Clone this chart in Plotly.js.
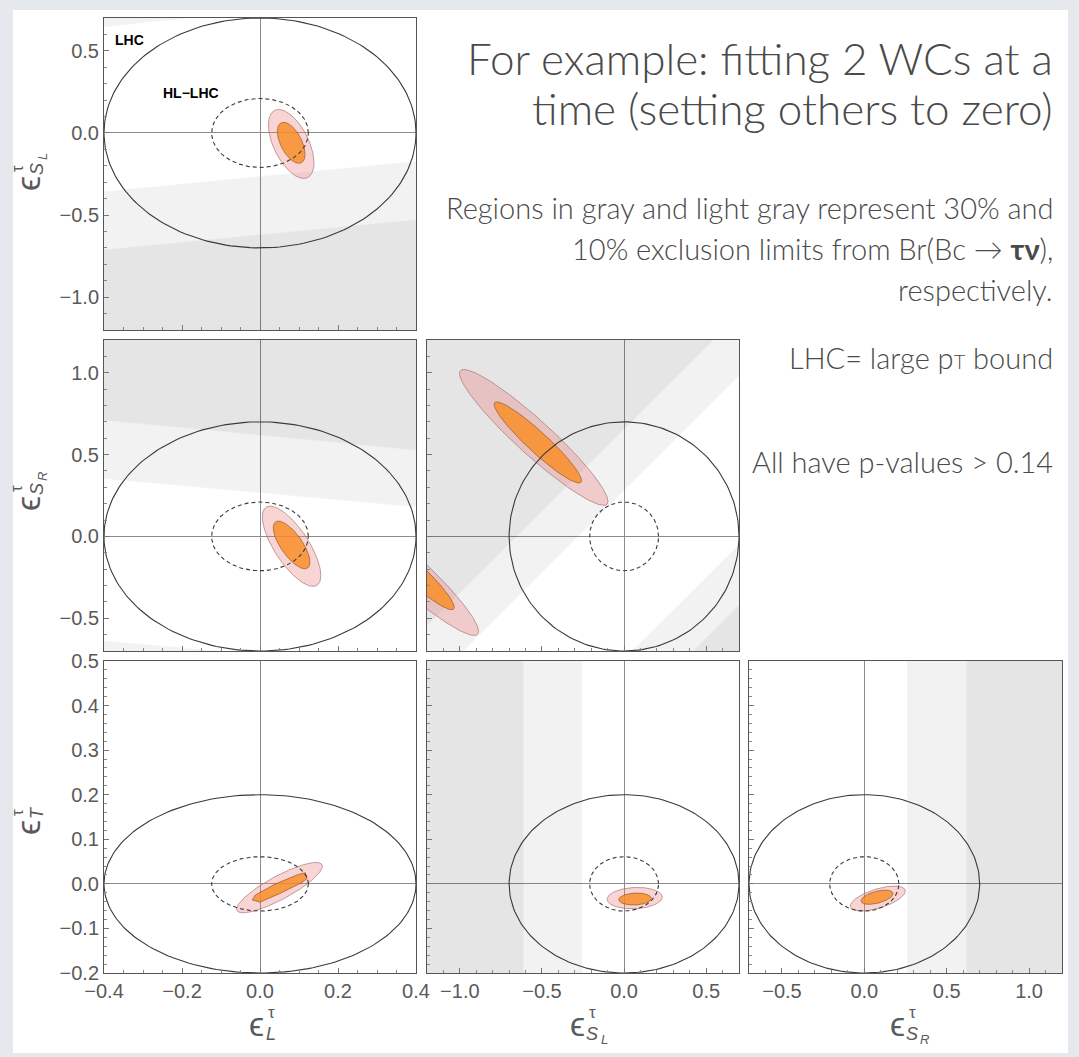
<!DOCTYPE html>
<html><head><meta charset="utf-8">
<script src="https://cdn.plot.ly/plotly-3.0.1.min.js"></script>
<style>html,body{margin:0;padding:0;background:#e6e9ed;} #chart{width:1079px;height:1057px;}</style>
</head><body><div id="chart"></div>
<script>
// ---------------- DATA ----------------
// Wilson coefficients and their axis ranges
const wcKeys = ['L', 'SL', 'SR', 'T'];
const xRanges = { L: [-0.4, 0.4], SL: [-1.2, 0.7], SR: [-0.7, 1.2] };
const yRanges = { SL: [-1.2, 0.7], SR: [-0.7, 1.2], T: [-0.2, 0.5] };
// LHC (large pT) and HL-LHC bounds (semi-axes of the bound ellipses)
const lhcBound = { L: 0.4, SL: 0.7, SR: 0.7, T: 0.2 };
const hlBound  = { L: 0.124, SL: 0.21, SR: 0.21, T: 0.061 };

// Fit regions: [centre x, centre y, half-width x, half-width y, correlation]
const fit95_LSL  = [0.080, -0.067, 0.0585, 0.210, -0.55];
const fit68_LSL  = [0.080, -0.060, 0.0355, 0.125, -0.55];
const fit95_LSR  = [0.081, -0.060, 0.075, 0.245, -0.73];
const fit68_LSR  = [0.081, -0.052, 0.047, 0.146, -0.72];
const fit95_SLSR_a = [-0.550, 0.605, 0.452, 0.415, -0.94];
const fit68_SLSR_a = [-0.525, 0.574, 0.266, 0.248, -0.94];
const fit95_SLSR_b = [-1.338, -0.190, 0.452, 0.415, -0.94];
const fit68_SLSR_b = [-1.300, -0.200, 0.266, 0.248, -0.94];
const fit95_LT   = [0.050, -0.0085, 0.110, 0.0565, 0.85];
const fit68_LT_x = [-0.020, -0.012, 0.040, 0.098, 0.116, 0.121, 0.105, 0.050, 0.000, -0.020];
const fit68_LT_y = [-0.036, -0.025, 0.000, 0.021, 0.025, 0.012, 0.002, -0.022, -0.041, -0.036];
const fit95_SLT  = [0.065, -0.032, 0.168, 0.024, 0.10];
const fit68_SLT  = [0.067, -0.034, 0.099, 0.0135, 0.10];
const fit95_SRT  = [0.082, -0.033, 0.167, 0.028, 0.60];
const fit68_SRT  = [0.077, -0.030, 0.097, 0.016, 0.50];

// Br(Bc -> tau nu) exclusion regions (polygon vertices). light = 10%, dark = 30%
const band_LSL_light1 = { x: [-0.4, 0.4, 0.4, -0.4], y: [-0.356, -0.173, -1.2, -1.2] };
const band_LSL_light2 = { x: [-0.4, -0.18, -0.4], y: [0.645, 0.7, 0.7] };
const band_LSL_dark1  = { x: [-0.4, 0.4, 0.4, -0.4], y: [-0.711, -0.528, -1.2, -1.2] };
const band_LSR_light1 = { x: [-0.4, 0.4, 0.4, -0.4], y: [0.353, 0.18, 1.2, 1.2] };
const band_LSR_light2 = { x: [-0.4, -0.108, -0.4], y: [-0.637, -0.7, -0.7] };
const band_LSR_dark1  = { x: [-0.4, 0.4, 0.4, -0.4], y: [0.71, 0.527, 1.2, 1.2] };
const band_SLSR_light1 = { x: [-0.98, 0.7, 0.7, -1.2, -1.2], y: [-0.7, 0.98, 1.2, 1.2, -0.7] };
const band_SLSR_light2 = { x: [0.05, 0.7, 0.7], y: [-0.7, -0.05, -0.7] };
const band_SLSR_dark1  = { x: [-1.2, 0.545, -1.2], y: [-0.545, 1.2, 1.2] };
const band_SLSR_dark2  = { x: [0.42, 0.7, 0.7], y: [-0.7, -0.42, -0.7] };
const band_SLT_light1 = { x: [-1.2, -0.255, -0.255, -1.2], y: [-0.2, -0.2, 0.5, 0.5] };
const band_SLT_dark1  = { x: [-1.2, -0.613, -0.613, -1.2], y: [-0.2, -0.2, 0.5, 0.5] };
const band_SRT_light1 = { x: [0.26, 1.2, 1.2, 0.26], y: [-0.2, -0.2, 0.5, 0.5] };
const band_SRT_dark1  = { x: [0.62, 1.2, 1.2, 0.62], y: [-0.2, -0.2, 0.5, 0.5] };

// Tick settings
const xTick = { L: [0.2, 0.05], SL: [0.5, 0.1], SR: [0.5, 0.1] };
const yTick = { SL: [0.5, 0.1], SR: [0.5, 0.1], T: [0.1, 0.02] };

// Slide text
const titleLines = ['For example: fitting 2 WCs at a', 'time (setting others to zero)'];
const noteLines = ['Regions in gray and light gray represent 30% and', '10% exclusion limits from Br(Bc → <b>τν</b>),', 'respectively.'];
const lhcNote = 'LHC= large p<span style="font-size:20px">T</span> bound';
const pNote = 'All have p-values > 0.14';

// ---------------- LAYOUT GEOMETRY ----------------
const W = 1079, H = 1057;
const colPx = [[104, 416], [427, 739], [749, 1062]];
const rowPx = [[18, 330], [340, 651], [661, 973]];
const fx = p => p / W, fy = p => 1 - p / H;

const panels = [
  { col: 0, row: 0, xv: 'L',  yv: 'SL', light: [band_LSL_light1, band_LSL_light2], dark: [band_LSL_dark1],
    f95: [fit95_LSL], f68: [fit68_LSL] },
  { col: 0, row: 1, xv: 'L',  yv: 'SR', light: [band_LSR_light1, band_LSR_light2], dark: [band_LSR_dark1],
    f95: [fit95_LSR], f68: [fit68_LSR] },
  { col: 1, row: 1, xv: 'SL', yv: 'SR', light: [band_SLSR_light1, band_SLSR_light2], dark: [band_SLSR_dark1, band_SLSR_dark2],
    f95: [fit95_SLSR_a, fit95_SLSR_b], f68: [fit68_SLSR_a, fit68_SLSR_b] },
  { col: 0, row: 2, xv: 'L',  yv: 'T', light: [], dark: [],
    f95: [fit95_LT], f68: [], poly68: [{ x: fit68_LT_x, y: fit68_LT_y }] },
  { col: 1, row: 2, xv: 'SL', yv: 'T', light: [band_SLT_light1], dark: [band_SLT_dark1],
    f95: [fit95_SLT], f68: [fit68_SLT] },
  { col: 2, row: 2, xv: 'SR', yv: 'T', light: [band_SRT_light1], dark: [band_SRT_dark1],
    f95: [fit95_SRT], f68: [fit68_SRT] }
];

function ellipse(p) {
  const [cx, cy, hx, hy, r] = p, s = Math.sqrt(1 - r * r);
  const xs = [], ys = [];
  for (let i = 0; i <= 200; i++) {
    const t = 2 * Math.PI * i / 200;
    xs.push(cx + hx * Math.cos(t));
    ys.push(cy + hy * (r * Math.cos(t) + s * Math.sin(t)));
  }
  return { x: xs, y: ys };
}

const traces = [];
const layout = {
  width: W, height: H, margin: { l: 0, r: 0, t: 0, b: 0 },
  paper_bgcolor: '#e5e8ec', plot_bgcolor: 'white', showlegend: false,
  shapes: [{ type: 'rect', xref: 'paper', yref: 'paper', x0: fx(13), x1: fx(1068), y0: fy(1053), y1: fy(10),
             fillcolor: 'white', line: { width: 0 }, layer: 'below' }],
  annotations: []
};

const tickFont = { family: 'Liberation Sans, Arial, sans-serif', size: 20, color: '#5a5a5a' };

panels.forEach((p, i) => {
  const k = i + 1, xa = 'x' + (k === 1 ? '' : k), ya = 'y' + (k === 1 ? '' : k);
  const xr = xRanges[p.xv], yr = yRanges[p.yv];
  const common = { showgrid: false, zeroline: true, zerolinecolor: '#8c8c8c', zerolinewidth: 1,
    showline: true, mirror: true, linecolor: '#555', linewidth: 1, ticks: 'inside', ticklen: 5,
    tickcolor: '#777', tickformat: '.1f', tickfont: tickFont };
  layout['xaxis' + (k === 1 ? '' : k)] = Object.assign({}, common, {
    domain: [fx(colPx[p.col][0]), fx(colPx[p.col][1])], range: xr, anchor: ya,
    dtick: xTick[p.xv][0], tick0: 0, minor: { ticks: 'inside', ticklen: 3, dtick: xTick[p.xv][1], tick0: 0, tickcolor: '#888' },
    showticklabels: p.row === 2
  });
  layout['yaxis' + (k === 1 ? '' : k)] = Object.assign({}, common, {
    domain: [fy(rowPx[p.row][1]), fy(rowPx[p.row][0])], range: yr, anchor: xa,
    dtick: yTick[p.yv][0], tick0: 0, minor: { ticks: 'inside', ticklen: 3, dtick: yTick[p.yv][1], tick0: 0, tickcolor: '#888' },
    showticklabels: p.col === 0
  });
  const base = { type: 'scatter', mode: 'lines', xaxis: xa, yaxis: ya, hoverinfo: 'skip' };
  p.light.concat(p.dark).forEach(b => traces.push(Object.assign({}, base, {
    x: b.x.concat([b.x[0]]), y: b.y.concat([b.y[0]]), fill: 'toself',
    fillcolor: 'rgba(0,0,0,0.05)', line: { width: 0 } })));
  p.f95.forEach(f => { const e = ellipse(f); traces.push(Object.assign({}, base, {
    x: e.x, y: e.y, fill: 'toself', fillcolor: 'rgba(232,120,125,0.32)',
    line: { color: 'rgba(165,105,105,0.8)', width: 0.8 } })); });
  p.f68.forEach(f => { const e = ellipse(f); traces.push(Object.assign({}, base, {
    x: e.x, y: e.y, fill: 'toself', fillcolor: 'rgba(250,140,35,0.82)',
    line: { color: 'rgba(140,80,30,0.8)', width: 0.8 } })); });
  (p.poly68 || []).forEach(f => traces.push(Object.assign({}, base, {
    x: f.x, y: f.y, fill: 'toself', fillcolor: 'rgba(250,140,35,0.82)',
    line: { color: 'rgba(140,80,30,0.8)', width: 0.8 } })));
  const lhc = ellipse([0, 0, lhcBound[p.xv], lhcBound[p.yv], 0]);
  traces.push(Object.assign({}, base, { x: lhc.x, y: lhc.y, line: { color: '#3a3a3a', width: 1.1 } }));
  const hl = ellipse([0, 0, hlBound[p.xv], hlBound[p.yv], 0]);
  traces.push(Object.assign({}, base, { x: hl.x, y: hl.y, line: { color: '#3a3a3a', width: 1.1, dash: '4px,3px' } }));
});

// ---------------- TEXT ----------------
function ann(text, px, py, opts) {
  layout.annotations.push(Object.assign({ text: text, x: fx(px), y: fy(py), xref: 'paper', yref: 'paper',
    showarrow: false, xanchor: 'center', yanchor: 'middle' }, opts));
}
const lblFont = (size, style) => ({ family: 'Liberation Sans, Arial, sans-serif', size: size, color: '#5a5a5a', style: style || 'normal' });
const subNames = { L: ['L', ''], SL: ['S', 'L'], SR: ['S', 'R'], T: ['T', ''] };

function epsX(cx, cy, key) {
  const [s1, s2] = subNames[key];
  ann('ϵ', cx, cy, { font: lblFont(34) });
  ann('τ', cx + 15, cy - 12, { font: lblFont(17) });
  ann(s1, cx + 15, cy + 10, { font: lblFont(18, 'italic') });
  if (s2) ann(s2, cx + 27, cy + 15, { font: lblFont(13, 'italic') });
}
function epsY(cx, cy, key) {
  const [s1, s2] = subNames[key];
  ann('ϵ', cx, cy, { font: lblFont(34), textangle: -90 });
  ann('τ', cx - 11, cy - 15, { font: lblFont(17), textangle: -90 });
  ann(s1, cx + 9, cy - 15, { font: lblFont(18, 'italic'), textangle: -90 });
  if (s2) ann(s2, cx + 14, cy - 27, { font: lblFont(13, 'italic'), textangle: -90 });
}
epsX(256, 1024, 'L'); epsX(577, 1024, 'SL'); epsX(897, 1024, 'SR');
epsY(28, 184, 'SL'); epsY(28, 504, 'SR'); epsY(28, 828, 'T');

const lblBold = { family: 'Liberation Sans, Arial, sans-serif', size: 14, color: '#000', weight: 700 };
ann('LHC', 113, 40, { font: lblBold, xanchor: 'left' });
ann('HL−LHC', 161, 93, { font: lblBold, xanchor: 'left' });

const slideFont = (size) => ({ family: 'Lato, Open Sans, sans-serif', size: size, color: '#4a4a4a', weight: 300 });
ann(titleLines[0], 1055, 58, { font: slideFont(44), xanchor: 'right' });
ann(titleLines[1], 1055, 108, { font: slideFont(44), xanchor: 'right' });
ann(noteLines[0], 1055, 208, { font: slideFont(29), xanchor: 'right' });
ann(noteLines[1], 1055, 248, { font: slideFont(29), xanchor: 'right' });
ann(noteLines[2], 1055, 289, { font: slideFont(29), xanchor: 'right' });
ann(lhcNote, 1055, 358, { font: slideFont(29), xanchor: 'right' });
ann(pNote, 1055, 461, { font: slideFont(29), xanchor: 'right' });

Plotly.newPlot('chart', traces, layout, { displayModeBar: false, staticPlot: true });
</script></body></html>
